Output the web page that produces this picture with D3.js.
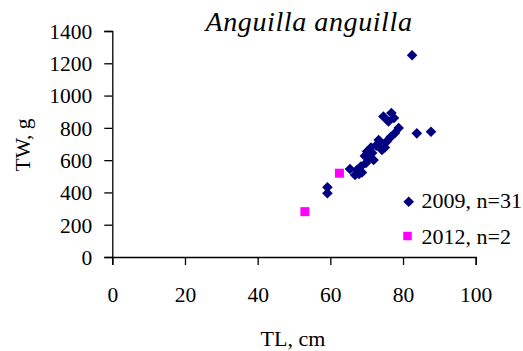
<!DOCTYPE html>
<html>
<head>
<meta charset="utf-8">
<script src="https://cdn.jsdelivr.net/npm/d3@7"></script>
<style>
  html, body { margin: 0; padding: 0; background: #fff; }
  svg { display: block; font-family: "Liberation Serif", "Times New Roman", serif; }
</style>
</head>
<body>
<svg id="chart" width="523" height="351"></svg>
<script>
// Total length (cm) and total weight (g) of eels, two sampling years
const tl2009 = [82.5, 83.8, 87.7, 59.2, 59.2,
  74.6, 76.0, 76.8, 77.5, 78.8, 77.8, 76.6, 75.5, 75.0, 73.7,
  72.6, 71.2, 70.1, 69.5, 71.5, 71.9, 69.8, 68.4, 68.7, 67.3,
  66.8, 65.4, 73.3, 70.6, 67.9, 74.2];
const tw2009 = [1250, 766, 776, 432, 395,
  870, 839, 892, 861, 799, 768, 743, 715, 678, 712,
  690, 678, 654, 626, 644, 601, 582, 561, 523, 539,
  508, 545, 725, 613, 514, 663];
const tl2012 = [53.0, 62.5];
const tw2012 = [281, 519];

const xTicks = [0, 20, 40, 60, 80, 100];
const yTicks = [0, 200, 400, 600, 800, 1000, 1200, 1400];
const seriesNames = ["2009, n=31", "2012, n=2"];
const chartTitle = "Anguilla anguilla";
const xTitle = "TL, cm";
const yTitle = "TW, g";

const serif = "'Liberation Serif', 'Times New Roman', serif";
const svg = d3.select("#chart");
const x = d3.scaleLinear().domain([0, 100]).range([112.3, 475.7]);
const y = d3.scaleLinear().domain([0, 1400]).range([257, 31]);

// Axes
const xAxis = svg.append("g")
  .attr("transform", `translate(0,${y(0)})`)
  .call(d3.axisBottom(x).tickValues(xTicks).tickFormat(d3.format("d"))
    .tickSizeOuter(0).tickSize(8).tickPadding(22));
const yAxis = svg.append("g")
  .attr("transform", `translate(${x(0)},0)`)
  .call(d3.axisLeft(y).tickValues(yTicks).tickFormat(d3.format("d"))
    .tickSizeOuter(0).tickSize(8).tickPadding(12));

[xAxis, yAxis].forEach(g => {
  g.attr("font-family", serif).attr("font-size", 21.5);
  g.select(".domain").attr("stroke", "#000").attr("stroke-width", 1.3);
  g.selectAll(".tick line").attr("stroke", "#000").attr("stroke-width", 1.3);
  g.selectAll(".tick text").attr("fill", "#000");
});
xAxis.selectAll(".tick text").attr("dy", "0.71em");
yAxis.selectAll(".tick text").attr("dy", "0.34em");

// Markers
const diamond = r => `M0,${-r}L${r},0L0,${r}L${-r},0Z`;
const square = s => `M${-s / 2},${-s / 2}h${s}v${s}h${-s}Z`;

svg.append("g").selectAll("path")
  .data(d3.range(tl2009.length))
  .join("path")
  .attr("d", diamond(5.3))
  .attr("fill", "#000080")
  .attr("transform", i => `translate(${x(tl2009[i])},${y(tw2009[i])})`);

svg.append("g").selectAll("path")
  .data(d3.range(tl2012.length))
  .join("path")
  .attr("d", square(9))
  .attr("fill", "#FF00FF")
  .attr("transform", i => `translate(${x(tl2012[i])},${y(tw2012[i])})`);

// Legend
const legend = svg.append("g").attr("font-family", serif).attr("font-size", 22);
legend.append("path").attr("d", diamond(5.3)).attr("fill", "#000080")
  .attr("transform", "translate(408.7,201.7)");
legend.append("text").attr("x", 421.5).attr("y", 207.5).text(seriesNames[0]);
legend.append("path").attr("d", square(8.5)).attr("fill", "#FF00FF")
  .attr("transform", "translate(407.5,236)");
legend.append("text").attr("x", 421.5).attr("y", 244).text(seriesNames[1]);

// Titles
svg.append("text")
  .attr("x", 309).attr("y", 31)
  .attr("text-anchor", "middle")
  .attr("font-family", serif)
  .style("font-style", "italic")
  .style("font-size", "28px")
  .style("letter-spacing", "0.6px")
  .text(chartTitle);

svg.append("text")
  .attr("x", 293).attr("y", 346)
  .attr("text-anchor", "middle")
  .attr("font-family", serif)
  .style("font-size", "22px")
  .text(xTitle);

svg.append("text")
  .attr("transform", "translate(30,145) rotate(-90)")
  .attr("text-anchor", "middle")
  .attr("font-family", serif)
  .style("font-size", "21.5px")
  .text(yTitle);
</script>
</body>
</html>
